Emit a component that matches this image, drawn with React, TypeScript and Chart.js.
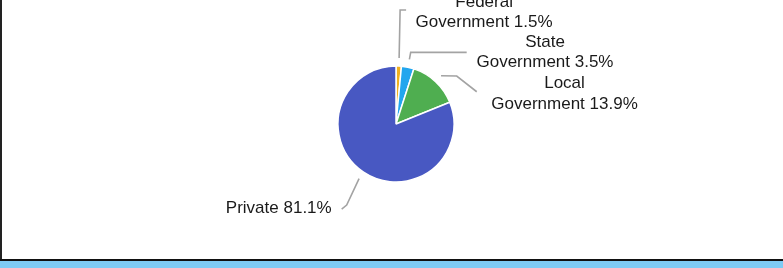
import React, { useEffect, useRef } from "react";
import { Chart, registerables } from "chart.js";

Chart.register(...registerables);

const categories: string[] = ["Federal\nGovernment", "State\nGovernment", "Local\nGovernment", "Private"];
const shares: number[] = [1.5, 3.5, 13.9, 81.1];
const sliceColors: string[] = ["#f2b01e", "#22a6ee", "#4fae50", "#4858c2"];

// leader line and label layout, relative to a point just outside each slice's middle
const leaderLayout = [
  { path: [[0, 0], [1, -48], [7, -48]], tx: 85, ty: -51.4, align: "center" },
  { path: [[0, 0], [1.3, -7], [57.3, -7]], tx: 135.6, ty: -12.7, align: "center" },
  { path: [[0, 0], [15.7, 0.3], [35.7, 16]], tx: 123.5, ty: 12.6, align: "center" },
  { path: [[0, 0], [-12.4, 26.3], [-17.4, 30.3]], tx: -27.4, ty: 34.6, align: "right" },
];

const labelPlugin = {
  id: "leaderLabels",
  afterDatasetsDraw(chart: any) {
    const ctx = chart.ctx as CanvasRenderingContext2D;
    const meta = chart.getDatasetMeta(0);
    ctx.save();
    meta.data.forEach((arc: any, i: number) => {
      const { x, y, startAngle, endAngle, outerRadius } = arc.getProps(
        ["x", "y", "startAngle", "endAngle", "outerRadius"],
        true
      );
      const mid = (startAngle + endAngle) / 2;
      const r = outerRadius + 8;
      const ax = x + Math.cos(mid) * r;
      const ay = y + Math.sin(mid) * r;
      const lay = leaderLayout[i];
      ctx.strokeStyle = "#a3a3a3";
      ctx.lineWidth = 1.6;
      ctx.beginPath();
      lay.path.forEach((p, k) => {
        if (k === 0) ctx.moveTo(ax + p[0], ay + p[1]);
        else ctx.lineTo(ax + p[0], ay + p[1]);
      });
      ctx.stroke();
      const text = categories[i] + " " + shares[i].toFixed(1) + "%";
      const lines = text.split("\n");
      ctx.fillStyle = "#1a1a1a";
      ctx.font = "17px 'Liberation Sans', Arial, sans-serif";
      ctx.textAlign = lay.align as CanvasTextAlign;
      ctx.textBaseline = "alphabetic";
      lines.forEach((ln, k) => {
        ctx.fillText(ln, ax + lay.tx, ay + lay.ty + k * 20.5);
      });
    });
    ctx.restore();
  },
};

export default function App() {
  const ref = useRef<HTMLCanvasElement | null>(null);
  useEffect(() => {
    if (!ref.current) return;
    const chart = new Chart(ref.current, {
      type: "pie",
      data: {
        labels: categories.map((c) => c.replace("\n", " ")),
        datasets: [
          {
            data: shares,
            backgroundColor: sliceColors,
            borderColor: "#ffffff",
            borderWidth: 1.5,
          },
        ],
      },
      options: {
        responsive: false,
        animation: false,
        devicePixelRatio: 1,
        radius: 58,
        layout: { padding: { left: 9, right: 0, top: 0, bottom: 11 } },
        plugins: {
          legend: { display: false },
          tooltip: { enabled: false },
        },
      } as any,
      plugins: [labelPlugin],
    });
    return () => chart.destroy();
  }, []);

  return (
    <div
      style={{
        position: "fixed",
        left: 0,
        top: 0,
        width: 783,
        height: 268,
        background: "#ffffff",
        overflow: "hidden",
      }}
    >
      <canvas
        ref={ref}
        width={783}
        height={259}
        style={{ position: "absolute", left: 0, top: 0, width: 783, height: 259 }}
      />
      <div style={{ position: "absolute", left: 0, top: 0, width: 2, height: 261, background: "#222" }} />
      <div style={{ position: "absolute", left: 0, top: 259, width: 783, height: 2, background: "#111" }} />
      <div style={{ position: "absolute", left: 0, top: 261, width: 783, height: 7, background: "#7ecbf4" }} />
    </div>
  );
}
